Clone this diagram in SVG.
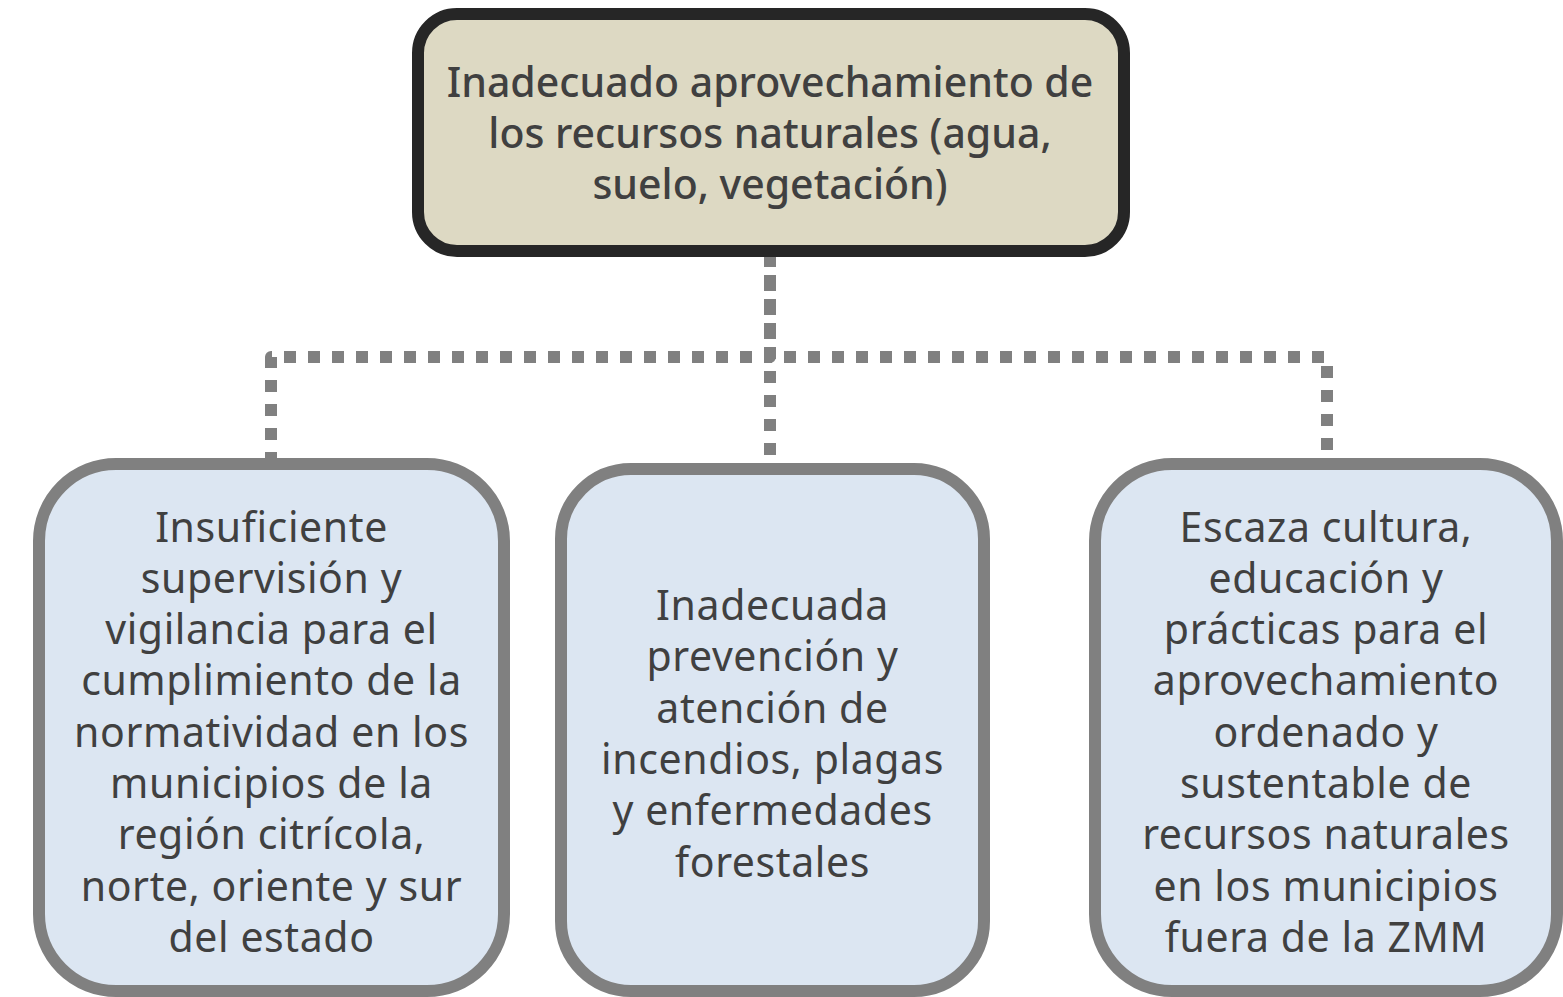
<svg xmlns="http://www.w3.org/2000/svg" width="1563" height="997" viewBox="0 0 1563 997">
<style>
.top{fill:#DDD9C3;stroke:#262626;stroke-width:12}
.box{fill:#DCE6F2;stroke:#808080;stroke-width:12}
.con{fill:none;stroke:#808080;stroke-width:12;stroke-dasharray:12 12;stroke-linecap:butt;stroke-linejoin:round}
text{font-family:"Noto Sans",sans-serif;fill:#404040;text-anchor:middle}
.tt{font-size:41px;font-weight:500}
.bt{font-size:41px;letter-spacing:0.6px}
</style>
<rect width="1563" height="997" fill="#FFFFFF"/>
<g id="connectors">
<path class="con" style="stroke-dashoffset:20" d="M770,251 V357 H271 V464"/>
<path class="con" d="M770,251 V357 H1327 V464"/>
<path class="con" d="M770,251 V469"/>
</g>
<g id="node-top">
<rect class="top" x="418" y="14" width="706" height="237" rx="39" ry="39"/>
<text class="tt" x="770" y="97">Inadecuado aprovechamiento de</text>
<text class="tt" x="770" y="148">los recursos naturales (agua,</text>
<text class="tt" x="770" y="199">suelo, vegetación)</text>
</g>
<g id="node-left">
<rect class="box" x="39" y="464" width="465" height="527" rx="77" ry="77"/>
<text class="bt" x="271.5" y="541.5">Insuficiente</text>
<text class="bt" x="271.5" y="592.8">supervisión y</text>
<text class="bt" x="271.5" y="644.1">vigilancia para el</text>
<text class="bt" x="271.5" y="695.4">cumplimiento de la</text>
<text class="bt" x="271.5" y="746.7">normatividad en los</text>
<text class="bt" x="271.5" y="798">municipios de la</text>
<text class="bt" x="271.5" y="849.3">región citrícola,</text>
<text class="bt" x="271.5" y="900.6">norte, oriente y sur</text>
<text class="bt" x="271.5" y="951.9">del estado</text>
</g>
<g id="node-middle">
<rect class="box" x="561" y="469" width="423" height="522" rx="70" ry="70"/>
<text class="bt" x="772.5" y="620">Inadecuada</text>
<text class="bt" x="772.5" y="671.3">prevención y</text>
<text class="bt" x="772.5" y="722.6">atención de</text>
<text class="bt" x="772.5" y="773.9">incendios, plagas</text>
<text class="bt" x="772.5" y="825.2">y enfermedades</text>
<text class="bt" x="772.5" y="876.5">forestales</text>
</g>
<g id="node-right">
<rect class="box" x="1095" y="464" width="462" height="527" rx="77" ry="77"/>
<text class="bt" x="1326" y="541.5">Escaza cultura,</text>
<text class="bt" x="1326" y="592.8">educación y</text>
<text class="bt" x="1326" y="644.1">prácticas para el</text>
<text class="bt" x="1326" y="695.4">aprovechamiento</text>
<text class="bt" x="1326" y="746.7">ordenado y</text>
<text class="bt" x="1326" y="798">sustentable de</text>
<text class="bt" x="1326" y="849.3">recursos naturales</text>
<text class="bt" x="1326" y="900.6">en los municipios</text>
<text class="bt" x="1326" y="951.9">fuera de la ZMM</text>
</g>
</svg>
